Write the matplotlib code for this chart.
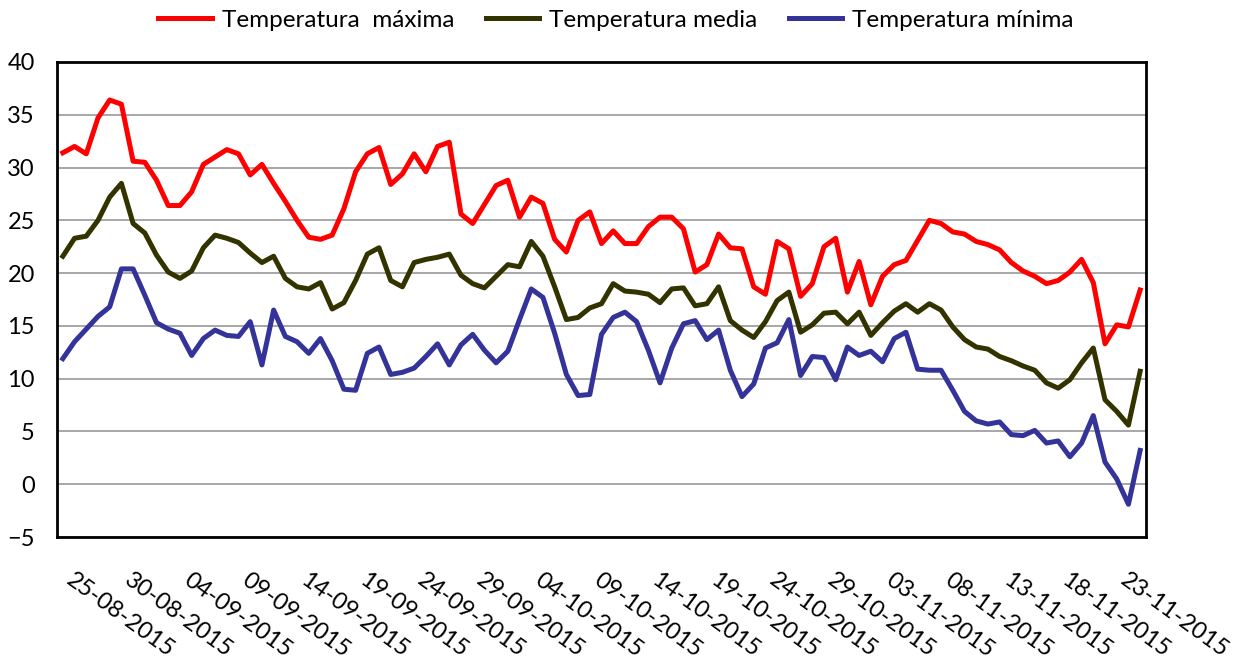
import matplotlib.pyplot as plt
import matplotlib.transforms as mtransforms
import pandas as pd

fechas = pd.date_range("2015-08-25", "2015-11-25", freq="D")

t_max = [31.4, 32.0, 31.3, 34.7, 36.4, 36.0, 30.6, 30.5, 28.8, 26.4, 26.4, 27.7,
         30.3, 31.0, 31.7, 31.3, 29.3, 30.3, 28.5, 26.8, 25.0, 23.4, 23.2, 23.6,
         26.1, 29.6, 31.3, 31.9, 28.4, 29.4, 31.3, 29.6, 32.0, 32.4, 25.6, 24.7,
         26.5, 28.3, 28.8, 25.3, 27.2, 26.6, 23.2, 22.0, 25.0, 25.8, 22.8, 24.0,
         22.8, 22.8, 24.4, 25.3, 25.3, 24.2, 20.1, 20.8, 23.7, 22.4, 22.3, 18.7,
         18.0, 23.0, 22.3, 17.8, 19.0, 22.5, 23.3, 18.2, 21.1, 17.0, 19.7,
         20.8, 21.2, 23.1, 25.0, 24.7, 23.9, 23.7, 23.0, 22.7, 22.2, 21.0, 20.2,
         19.7, 19.0, 19.3, 20.1, 21.3, 19.1, 13.3, 15.1, 14.9, 18.4]
t_media = [21.6, 23.3, 23.5, 25.0, 27.2, 28.5, 24.7, 23.8, 21.7, 20.1, 19.5, 20.2,
           22.4, 23.6, 23.3, 22.9, 21.9, 21.0, 21.6, 19.5, 18.7, 18.5, 19.1, 16.6,
           17.2, 19.3, 21.8, 22.4, 19.3, 18.7, 21.0, 21.3, 21.5, 21.8, 19.8, 19.0,
           18.6, 19.7, 20.8, 20.6, 23.0, 21.6, 18.7, 15.6, 15.8, 16.7, 17.1, 19.0,
           18.3, 18.2, 18.0, 17.2, 18.5, 18.6, 16.9, 17.1, 18.7, 15.5, 14.6, 13.9,
           15.4, 17.4, 18.2, 14.4, 15.1, 16.2, 16.3, 15.2, 16.3, 14.1, 15.3, 16.4,
           17.1, 16.3, 17.1, 16.5, 14.9, 13.7, 13.0, 12.8, 12.1, 11.7, 11.2, 10.8,
           9.6, 9.1, 9.9, 11.5, 12.9, 8.0, 6.9, 5.6, 10.7]
t_min = [11.9, 13.5, 14.7, 15.9, 16.8, 20.4, 20.4, 17.9, 15.3, 14.7, 14.3, 12.2,
         13.8, 14.6, 14.1, 14.0, 15.4, 11.3, 16.5, 14.0, 13.5, 12.4, 13.8, 11.7,
         9.0, 8.9, 12.4, 13.0, 10.4, 10.6, 11.0, 12.1, 13.3, 11.3, 13.2, 14.2,
         12.7, 11.5, 12.6, 15.6, 18.5, 17.7, 14.3, 10.4, 8.4, 8.5, 14.2, 15.8,
         16.3, 15.4, 12.7, 9.6, 12.9, 15.2, 15.5, 13.7, 14.6, 10.8, 8.3, 9.5,
         12.9, 13.4, 15.6, 10.3, 12.1, 12.0, 9.9, 13.0, 12.2, 12.6, 11.6, 13.8,
         14.4, 10.9, 10.8, 10.8, 8.9, 6.9, 6.0, 5.7, 5.9, 4.7, 4.6, 5.1, 3.9,
         4.1, 2.6, 3.9, 6.5, 2.1, 0.5, -1.9, 3.2]

etiquetas = fechas[:91:5].strftime("%d-%m-%Y")

plt.rcParams['font.family'] = ['Lato', 'DejaVu Sans']
fig = plt.figure(figsize=(12.54, 6.62), dpi=100)
ax = fig.add_axes([57/1254, 1 - 537/662, (1146 - 57)/1254, (537 - 62)/662])

dias = range(len(fechas))
ax.plot(dias, t_max, color='#ff0000', lw=3.6, label='Temperatura  máxima')
ax.plot(dias, t_media, color='#333300', lw=3.6, label='Temperatura media')
ax.plot(dias, t_min, color='#333399', lw=3.6, label='Temperatura mínima')

ax.set_xlim(-0.5, len(fechas) - 0.5)
ax.set_ylim(-5, 40)
ax.set_yticks(range(-5, 41, 5))
ax.yaxis.grid(True, color='#a0a0a0', lw=1.3)
ax.set_axisbelow(True)

ax.set_xticks(range(0, 91, 5))
ax.set_xticklabels(etiquetas)
ax.tick_params(axis='x', length=0, pad=23, labelsize=17)
desplaza = mtransforms.ScaledTranslation(0.12, 0, fig.dpi_scale_trans)
for lab in ax.get_xticklabels():
    lab.set_rotation(-36)
    lab.set_ha('left')
    lab.set_va('top')
    lab.set_rotation_mode('anchor')
    lab.set_transform(lab.get_transform() + desplaza)
ax.tick_params(axis='y', length=0, pad=16, labelsize=17)

for s in ax.spines.values():
    s.set_linewidth(2)
    s.set_color('black')

fig.legend(loc='center', bbox_to_anchor=(616/1254, 1 - 20/662), ncol=3,
           frameon=False, fontsize=17.5, handlelength=2.2, columnspacing=1.3,
           handletextpad=0.4)

fig.savefig('out.png', dpi=100)
